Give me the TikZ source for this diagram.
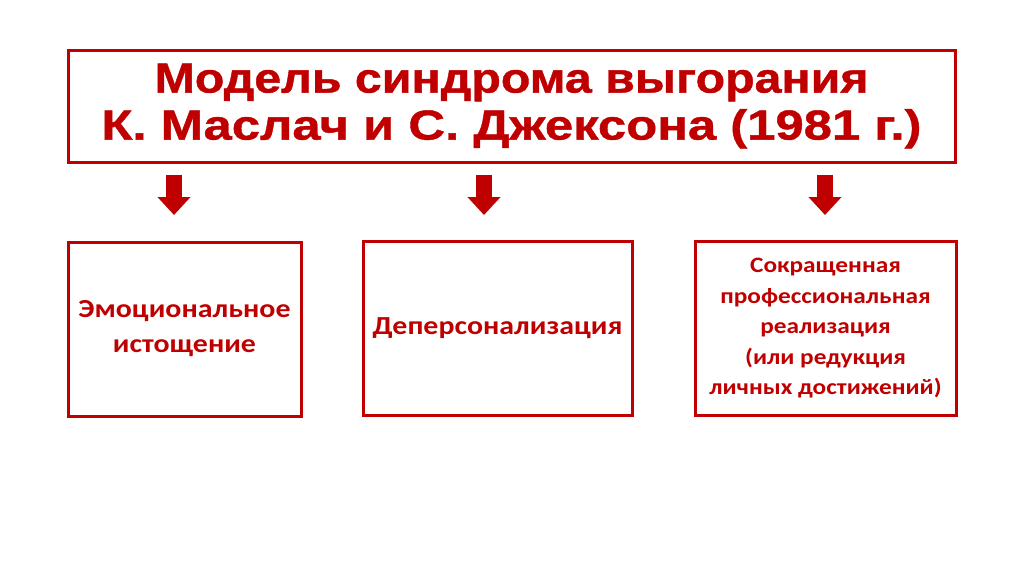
\documentclass[tikz,border=0pt]{standalone}
\usepackage{fontspec}
\setmainfont{Carlito}
\newfontfamily\boxfont{Carlito}[FakeStretch=1.15]
\newfontfamily\titlefont{Liberation Sans}[FakeStretch=1.15,FakeBold=1]
\newfontfamily\titlewide{Liberation Sans}[FakeStretch=1.21,FakeBold=1]
\usepackage{tikz}
\usetikzlibrary{arrows.meta,positioning,calc}
\definecolor{burnred}{HTML}{C00000}

\begin{document}
\begin{tikzpicture}[
    x=1pt, y=-1pt,
    headbox/.style={
        draw=burnred,
        line width=3pt,
        minimum width=887pt,
        minimum height=112pt,
        align=center,
        text=burnred,
        font=\titlefont\bfseries\fontsize{42}{47}\selectfont,
    },
    part/.style={
        draw=burnred,
        line width=3pt,
        minimum height=174pt,
        align=center,
        text=burnred,
        font=\boxfont\bfseries\fontsize{26}{35}\selectfont,
    },
    downarrow/.style={
        -{Triangle[width=32pt,length=18pt]},
        line width=16pt,
        color=burnred,
    },
]
\useasboundingbox[fill=white] (0,0) rectangle (1024,574);

\node[headbox] (title) at (511.5,106) {%
    Модель синдрома выгорания\\
    {\titlewide\bfseries К. Маслач и С. Джексона (1981 г.)}};

\node[part,minimum width=233pt] (exh) at (184.5,329) {%
    Эмоциональное\\истощение};
\node[part,minimum width=269pt] (dep) at (497.5,328.5) {%
    Деперсонализация};
\node[part,minimum width=261pt,font=\boxfont\bfseries\fontsize{22}{30.5}\selectfont] (red) at (825.5,328.5) {%
    Сокращенная\\профессиональная\\реализация\\(или редукция\\личных достижений)};

% arrows under the title
\coordinate (a1) at (174,215);
\coordinate (a2) at (484,215);
\coordinate (a3) at (825,215);
\draw[downarrow] ([yshift=-11pt]title.south -| a1) -- (a1);
\draw[downarrow] ([yshift=-11pt]title.south -| a2) -- (a2);
\draw[downarrow] ([yshift=-11pt]title.south -| a3) -- (a3);
\end{tikzpicture}
\end{document}
